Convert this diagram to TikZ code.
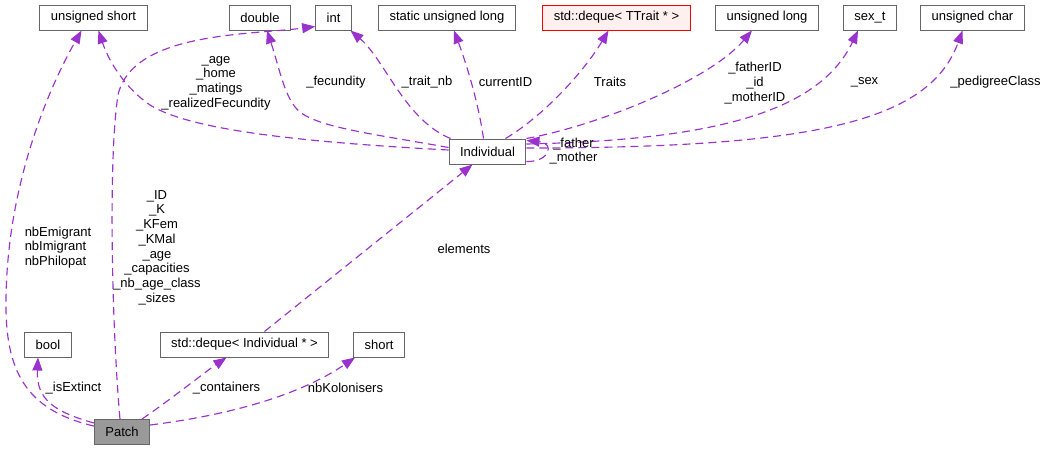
\documentclass[tikz,border=0pt]{standalone}
\usepackage{fontspec}
\setmainfont{Liberation Sans}
\usepackage{xcolor}
\definecolor{edgeclr}{HTML}{9A32CD}
\definecolor{boxline}{HTML}{666666}
\definecolor{focusfill}{HTML}{999999}
\definecolor{tmplline}{HTML}{FF0000}
\definecolor{tmplfill}{HTML}{FFF0F0}
\usetikzlibrary{arrows.meta}

\begin{document}
\begin{tikzpicture}[x=1pt, y=-1pt,
    font=\fontsize{13}{14.7}\selectfont,
    typebox/.style={draw=boxline, fill=white, line width=1pt, minimum height=25pt, inner xsep=11pt, inner ysep=0pt},
    focus/.style={typebox, fill=focusfill},
    tmpl/.style={typebox, draw=tmplline, fill=tmplfill},
    member/.style={draw=edgeclr, line width=1.15pt, dash pattern=on 8pt off 5pt, -{Triangle[length=13pt,width=10pt]}},
    lbl/.style={align=center, inner sep=0pt}]
  \useasboundingbox (0,0) rectangle (1047,451);
  % top row: member types
  \node[typebox] (ushort) at (93.5,17.5) {unsigned short};
  \node[typebox] (double) at (260,17.5) {double};
  \node[typebox] (int) at (333.5,17.5) {int};
  \node[typebox] (sulong) at (447,17.5) {static unsigned long};
  \node[tmpl] (dequeT) at (616.5,17.5) {std::deque< TTrait * >};
  \node[typebox] (ulong) at (767,17.5) {unsigned long};
  \node[typebox] (sext) at (870,17.5) {sex\_t};
  \node[typebox] (uchar) at (972.5,17.5) {unsigned char};
  % middle and bottom rows
  \node[typebox] (indiv) at (487.5,151.5) {Individual};
  \node[typebox] (bool) at (48,344.5) {bool};
  \node[typebox] (dequeI) at (244.5,344.5) {std::deque< Individual * >};
  \node[typebox] (short) at (379,344.5) {short};
  \node[focus] (patch) at (122,432) {Patch};

  % Individual -> members
  \draw[member] ([yshift=1.5pt]indiv.west) .. controls (300,142) and (190,130) .. (150,105)
    .. controls (128,90) and (110,65) .. ([xshift=5pt]ushort.south);
  \draw[member] ([yshift=4pt]indiv.west) .. controls (380,135) and (320,128) .. (300,112)
    .. controls (285,100) and (280,70) .. ([xshift=7pt]double.south);
  \draw[member] ([xshift=2pt]indiv.north west) .. controls (405,120) and (385,60) .. ([xshift=17pt]int.south);
  \draw[member] ([xshift=-4pt]indiv.north) .. controls (478,100) and (465,60) .. ([xshift=7pt]sulong.south);
  \draw[member] ([xshift=18pt]indiv.north) .. controls (545,115) and (585,70) .. ([xshift=-8pt]dequeT.south);
  \draw[member] (indiv.north east) .. controls (600,125) and (710,80) .. ([xshift=-15pt]ulong.south);
  \draw[member] ([yshift=7.5pt]indiv.east) .. controls (720,140) and (820,110) .. ([xshift=-12pt]sext.south);
  \draw[member] ([yshift=3.5pt]indiv.east) .. controls (820,148) and (930,120) .. ([xshift=-10pt]uchar.south);
  \draw[member] ([yshift=-10pt]indiv.east) .. controls (550,162) and (555,143) .. ([yshift=11pt]indiv.east);

  % Patch -> members
  \draw[member] ([yshift=6pt]patch.west) .. controls (25,410) and (5,370) .. (6,300)
    .. controls (7,190) and (45,95) .. ([xshift=-12pt]ushort.south);
  \draw[member] ([xshift=-2pt]patch.north) .. controls (112,330) and (108,160) .. (118,95)
    .. controls (132,32) and (250,35) .. ([yshift=-9pt]int.west);
  \draw[member] ([yshift=9pt]patch.west) .. controls (55,412) and (36,400) .. ([xshift=-10pt]bool.south);
  \draw[member] ([xshift=20pt]patch.north) .. controls (170,400) and (205,372) .. ([xshift=-18pt]dequeI.south);
  \draw[member] ([yshift=7pt]patch.east) .. controls (230,415) and (300,395) .. ([xshift=-24pt]short.south);
  \draw[member] ([xshift=20pt]dequeI.north) -- ([xshift=-15pt]indiv.south);

  % edge labels
  \node[lbl] (lblage) at (216,83) {\_age\\\_home\\\_matings\\\_realizedFecundity};
  \node[lbl] (lblfec) at (336,82) {\_fecundity};
  \node[lbl] (lbltrait) at (427,82) {\_trait\_nb};
  \node[lbl] (lblcur) at (505.5,82) {currentID};
  \node[lbl] (lbltraits) at (610,82) {Traits};
  \node[lbl] (lblids) at (755,83) {\_fatherID\\\_id\\\_motherID};
  \node[lbl] (lblsex) at (864.5,82) {\_sex};
  \node[lbl] (lblped) at (995.5,82) {\_pedigreeClass};
  \node[lbl] (lblparents) at (573.5,151) {\_father\\\_mother};
  \node[lbl] (lblelem) at (464,249) {elements};
  \node[lbl, align=left] (lblnb) at (58,247.5) {nbEmigrant\\nbImigrant\\nbPhilopat};
  \node[lbl] (lblpatch) at (157,247.5) {\_ID\\\_K\\\_KFem\\\_KMal\\\_age\\\_capacities\\\_nb\_age\_class\\\_sizes};
  \node[lbl] (lblext) at (73.5,388) {\_isExtinct};
  \node[lbl] (lblcont) at (226.5,388) {\_containers};
  \node[lbl] (lblkol) at (345.5,388) {nbKolonisers};
\end{tikzpicture}
\end{document}
